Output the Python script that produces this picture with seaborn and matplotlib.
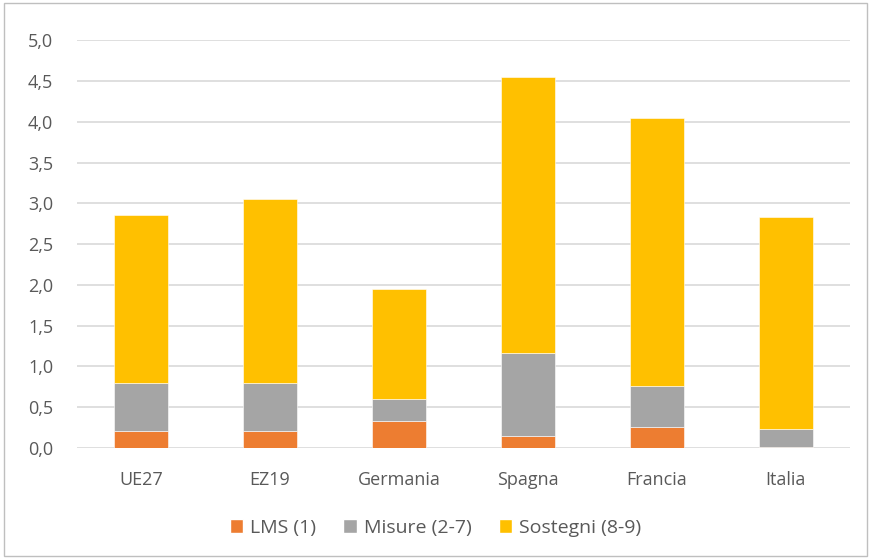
import numpy as np
import pandas as pd
import seaborn as sns
import matplotlib.pyplot as plt
from matplotlib.patches import Patch, Rectangle

paesi = ["UE27", "EZ19", "Germania", "Spagna", "Francia", "Italia"]
lms = [0.20, 0.20, 0.33, 0.14, 0.26, 0.01]
misure = [0.59, 0.59, 0.27, 1.02, 0.50, 0.22]
sostegni = [2.07, 2.26, 1.35, 3.39, 3.28, 2.60]

serie = ["LMS (1)", "Misure (2-7)", "Sostegni (8-9)"]
colori = ["#ED7D31", "#A5A5A5", "#FFC000"]


def main():
    sns.set_style("white")
    plt.rcParams["font.family"] = ["Open Sans", "DejaVu Sans"]
    testo = "#595959"

    df = pd.DataFrame({"paese": paesi, serie[0]: lms, serie[1]: misure, serie[2]: sostegni})

    fig = plt.figure(figsize=(8.71, 5.59), dpi=100)
    ax = fig.add_axes([0.088, 0.199, 0.888, 0.729])

    base = np.zeros(len(paesi))
    for nome, col in zip(serie, colori):
        sns.barplot(data=df, x="paese", y=nome, color=col, bottom=base, width=0.42,
                    saturation=1, edgecolor="white", linewidth=0.4, ax=ax, zorder=3)
        base = base + df[nome].to_numpy()

    ax.set_ylim(0, 5)
    ax.set_xlim(-0.5, len(paesi) - 0.5)
    ticks = np.arange(0, 5.01, 0.5)
    ax.set_yticks(ticks)
    ax.set_yticklabels([f"{t:.1f}".replace(".", ",") for t in ticks])
    ax.yaxis.grid(True, color="#D9D9D9", linewidth=1.2, zorder=0)
    ax.set_axisbelow(True)
    for s in ax.spines.values():
        s.set_visible(False)
    ax.tick_params(axis="both", length=0, labelsize=13, colors=testo)
    ax.tick_params(axis="y", pad=17)
    ax.tick_params(axis="x", pad=17)
    ax.set_xlabel("")
    ax.set_ylabel("")

    handles = [Patch(facecolor=c, label=n) for n, c in zip(serie, colori)]
    fig.legend(handles=handles, loc="center", bbox_to_anchor=(0.5, 0.056), ncol=3,
               frameon=False, fontsize=14, labelcolor=testo, handlelength=0.7,
               handleheight=0.7, handletextpad=0.35, columnspacing=1.4)

    fig.patches.append(Rectangle((0.005, 0.005), 0.99, 0.99, transform=fig.transFigure,
                                 fill=False, edgecolor="#BFBFBF", linewidth=1))

    plt.savefig("out.png", dpi=100)


if __name__ == "__main__":
    main()
